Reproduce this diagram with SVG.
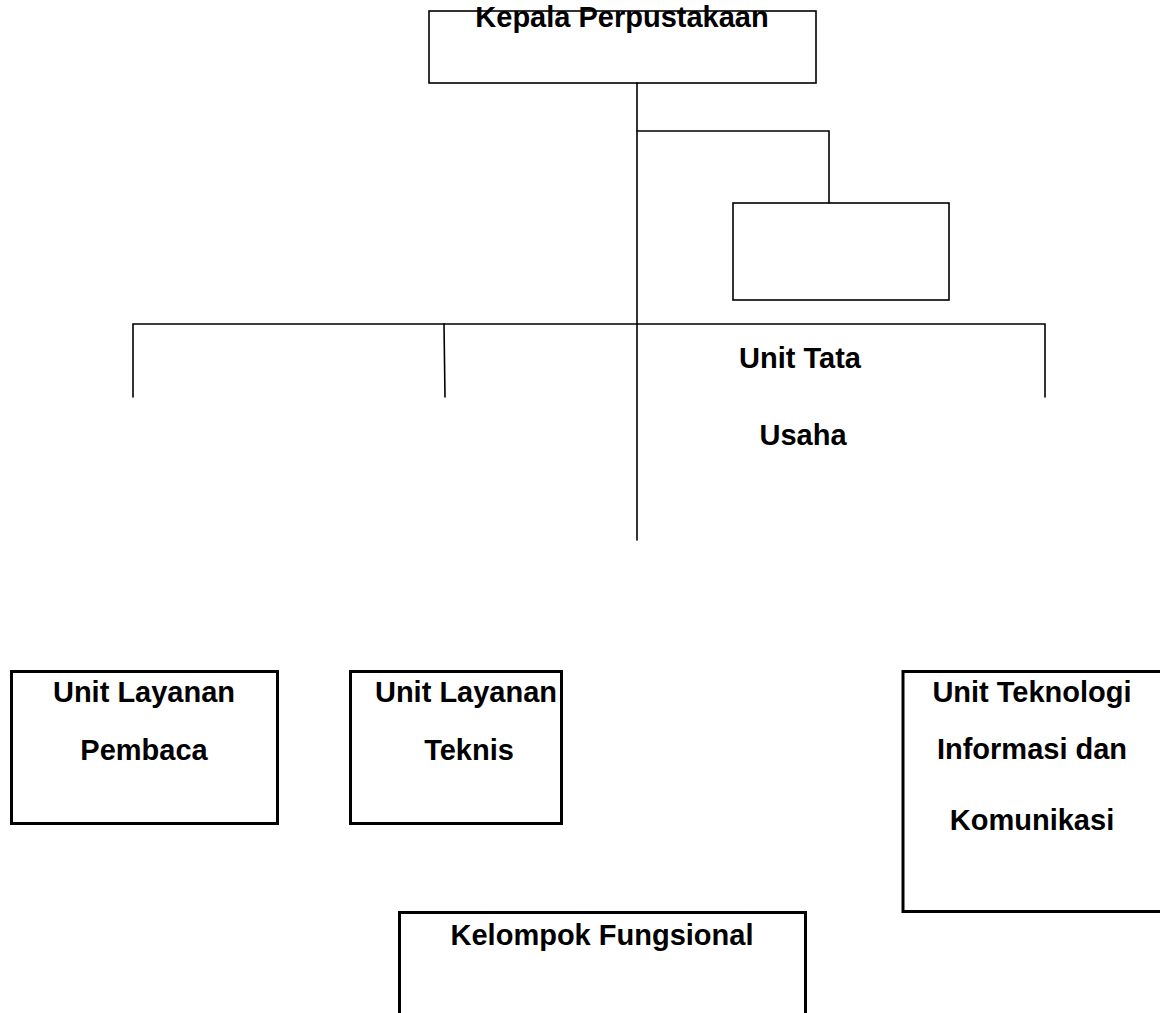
<svg xmlns="http://www.w3.org/2000/svg" width="1160" height="1013" viewBox="0 0 1160 1013">
<style>
.thin{fill:none;stroke:#000;stroke-width:1.6;stroke-linecap:round;stroke-linejoin:miter}
.thick{fill:none;stroke:#000;stroke-width:3}
.t{font-family:"Liberation Sans",Arial,sans-serif;font-weight:bold;font-size:29px;fill:#000;text-anchor:middle}
</style>
<rect width="1160" height="1013" fill="#fff"/>
<g id="connectors">
<line class="thin" x1="637" y1="83" x2="637" y2="540"/>
<polyline class="thin" points="637,131 829,131 829,203"/>
<polyline class="thin" points="133,397 133,324 1045,324 1045,397"/>
<line class="thin" x1="444" y1="324" x2="445" y2="397"/>
</g>
<g id="kepala">
<rect class="thin" x="429" y="11" width="387" height="72"/>
<text class="t" x="622" y="27">Kepala Perpustakaan</text>
</g>
<g id="staf">
<rect class="thin" x="733" y="203" width="216" height="97"/>
</g>
<g id="tata-usaha">
<text class="t" x="800" y="368">Unit Tata</text>
<text class="t" x="803" y="445">Usaha</text>
</g>
<g id="layanan-pembaca">
<rect class="thick" x="11.5" y="671.5" width="266" height="152"/>
<text class="t" x="144" y="702">Unit Layanan</text>
<text class="t" x="144" y="760">Pembaca</text>
</g>
<g id="layanan-teknis">
<rect class="thick" x="350.5" y="671.5" width="211" height="152"/>
<text class="t" x="466" y="702">Unit Layanan</text>
<text class="t" x="469" y="760">Teknis</text>
</g>
<g id="tik">
<rect class="thick" x="903" y="671.5" width="270" height="240"/>
<text class="t" x="1032" y="702">Unit Teknologi</text>
<text class="t" x="1032" y="759">Informasi dan</text>
<text class="t" x="1032" y="830">Komunikasi</text>
</g>
<g id="fungsional">
<rect class="thick" x="399.5" y="912.5" width="406" height="120"/>
<text class="t" x="602" y="945">Kelompok Fungsional</text>
</g>
</svg>
